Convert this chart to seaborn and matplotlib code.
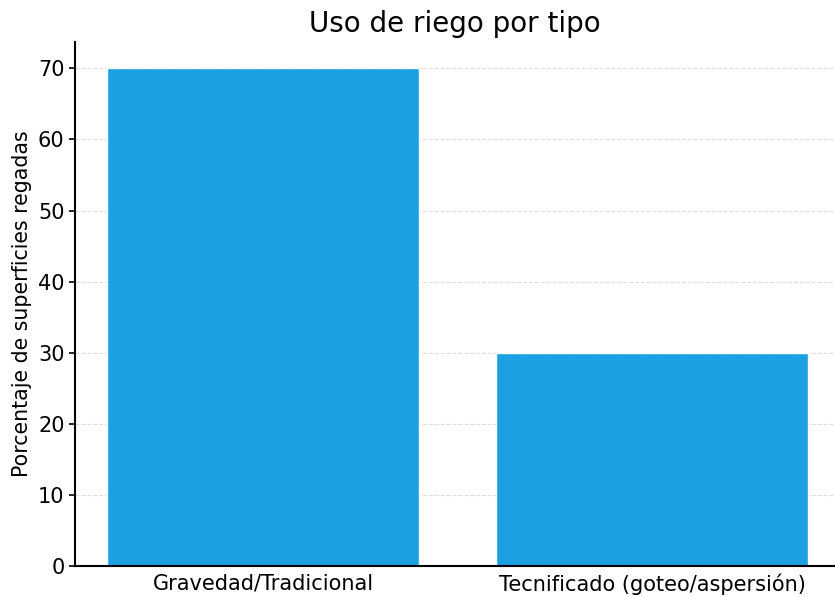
import matplotlib
matplotlib.use("Agg")
import matplotlib.pyplot as plt
import seaborn as sns
import pandas as pd

# Data
tipos = ['Gravedad/Tradicional', 'Tecnificado (goteo/aspersión)']
porcentajes = [70, 30]
bar_color = '#1BA1E2'

df = pd.DataFrame({'Tipo': tipos, 'Porcentaje': porcentajes})

sns.set_style('white')
plt.rcParams['font.family'] = ['DejaVu Sans']
plt.rcParams['text.color'] = 'black'
plt.rcParams['axes.labelcolor'] = 'black'

fig = plt.figure(figsize=(8.35, 5.97), dpi=100)
ax = fig.add_axes([0.0898, 0.0519, 0.9102, 0.8777])

sns.barplot(data=df, x='Tipo', y='Porcentaje', color=bar_color, width=0.8,
            saturation=1, ax=ax, zorder=2)

ax.set_xlim(-0.483, 1.47)
ax.set_ylim(0, 73.7)
ax.set_yticks([0, 10, 20, 30, 40, 50, 60, 70])
ax.yaxis.grid(True, linestyle='--', color='#dddddd', linewidth=0.8, zorder=0)
ax.set_axisbelow(True)

ax.set_title('Uso de riego por tipo', fontsize=20, pad=7, color='black')
ax.set_xlabel('')
ax.set_ylabel('Porcentaje de superficies regadas', fontsize=14.8, color='black')
ax.tick_params(axis='both', labelsize=15, colors='black')
ax.tick_params(axis='y', left=True, length=4, width=1.2)
ax.tick_params(axis='x', bottom=False, pad=2)

for side in ['top', 'right']:
    ax.spines[side].set_visible(False)
for side in ['left', 'bottom']:
    ax.spines[side].set_color('black')
    ax.spines[side].set_linewidth(1.5)

fig.savefig('out.png', dpi=100)
